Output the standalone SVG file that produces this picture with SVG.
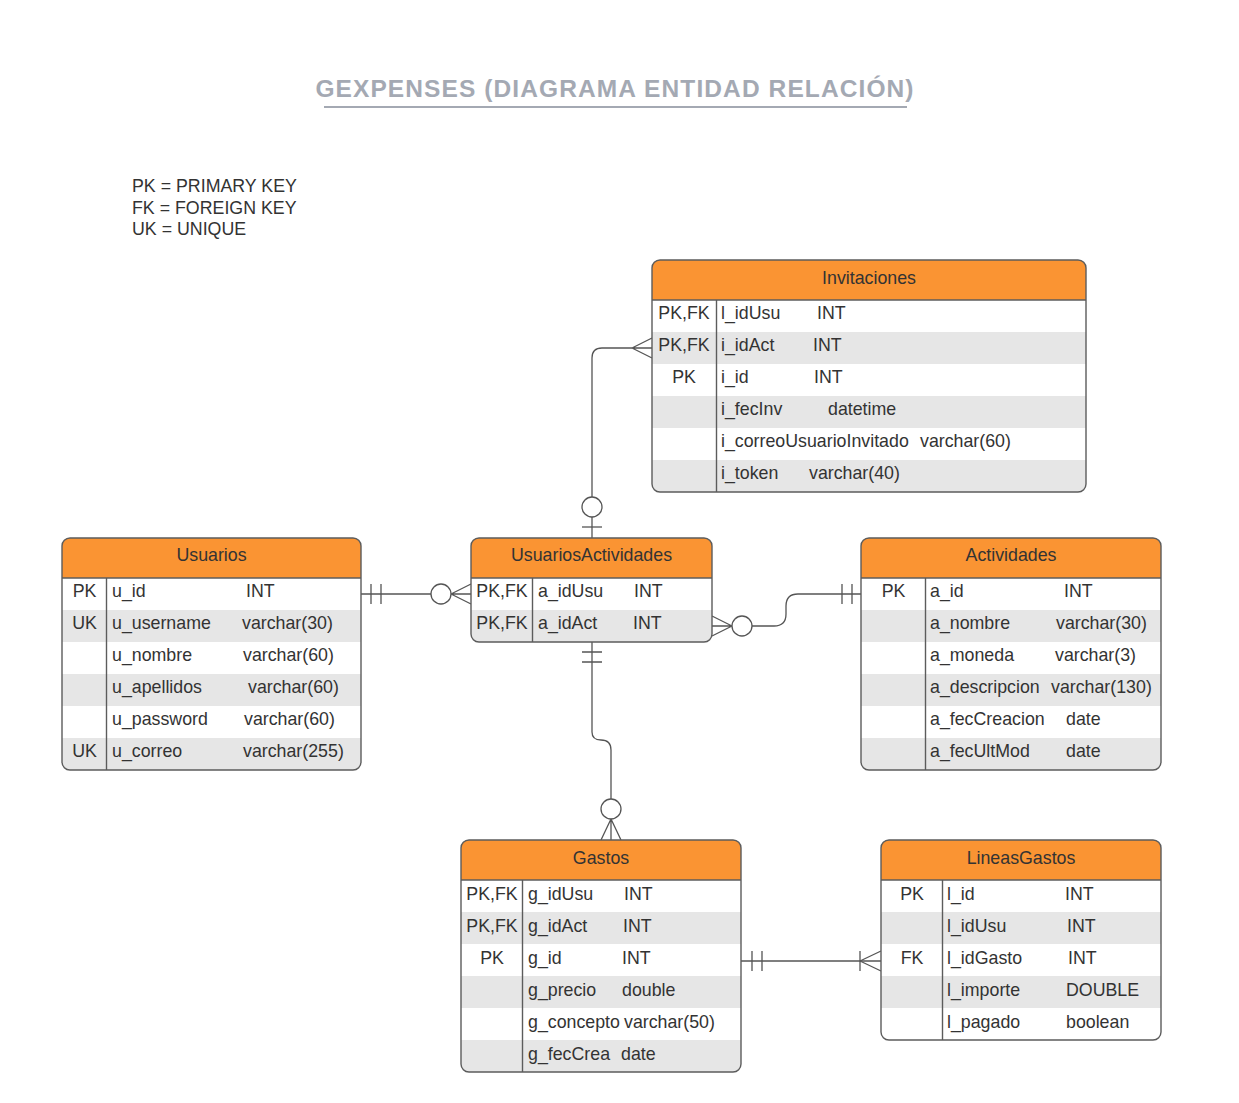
<svg xmlns="http://www.w3.org/2000/svg" width="1239" height="1103" viewBox="0 0 1239 1103">
<style>
text{font-family:"Liberation Sans",Arial,sans-serif;font-size:17.8px;fill:#333333}
.c{text-anchor:middle}
.title{font-size:24.5px;font-weight:bold;fill:#a4a9b3;letter-spacing:1.1px}
.bg{fill:#ffffff}
.hdr{fill:#fa9433}
.g{fill:#e6e6e6}
.box{fill:none;stroke:#5c5c5c;stroke-width:1.4}
.ln{stroke:#5c5c5c;stroke-width:1.4}
.cn path,.cn line{fill:none;stroke:#555555;stroke-width:1.3}
.cn circle{fill:#ffffff;stroke:#555555;stroke-width:1.3}
</style>
<rect x="0" y="0" width="1239" height="1103" fill="#ffffff"/>
<g id="title">
<text class="title c" x="615" y="97">GEXPENSES (DIAGRAMA ENTIDAD RELACIÓN)</text>
<line x1="324" y1="107" x2="907" y2="107" stroke="#a4a9b3" stroke-width="2"/>
</g>
<g id="legend">
<text x="132" y="192">PK = PRIMARY KEY</text>
<text x="132" y="213.5">FK = FOREIGN KEY</text>
<text x="132" y="235">UK = UNIQUE</text>
</g>

<g class="cn" id="connectors">
<!-- Usuarios - UsuariosActividades -->
<path d="M361,594 H431"/>
<path d="M371,584 V604 M381,584 V604"/>
<circle cx="441" cy="594" r="10"/>
<path d="M451,594 L471,584 M451,594 L471,594 M451,594 L471,604"/>
<!-- UsuariosActividades - Actividades -->
<path d="M712,616 L732,626 M712,626 L732,626 M712,636 L732,626"/>
<circle cx="742" cy="626" r="10"/>
<path d="M752,626 H774 Q786,626 786,614 V606 Q786,594 798,594 H861"/>
<path d="M842,584 V604 M852,584 V604"/>
<!-- Invitaciones - UsuariosActividades -->
<path d="M582,527 H602"/>
<path d="M592,538 V517"/>
<circle cx="592" cy="507" r="10"/>
<path d="M592,497 V358 Q592,348 602,348 H632"/>
<path d="M632,348 L652,338 M632,348 L652,348 M632,348 L652,358"/>
<!-- UsuariosActividades - Gastos -->
<path d="M592,642 V732 Q592,740 601,740 Q611,740 611,750 V799"/>
<path d="M582,652 H602 M582,662 H602"/>
<circle cx="611" cy="809" r="10"/>
<path d="M611,819 L601,840 M611,819 L611,840 M611,819 L621,840"/>
<!-- Gastos - LineasGastos -->
<path d="M741,961 H881"/>
<path d="M752,951 V971 M762,951 V971"/>
<path d="M860,951 V971"/>
<path d="M860,961 L881,951 M860,961 L881,971"/>
</g>

<g id="Invitaciones">
<rect class="bg" x="652" y="260" width="434" height="232" rx="8"/>
<path class="hdr" d="M652,300 V268 A8,8 0 0 1 660,260 H1078 A8,8 0 0 1 1086,268 V300 Z"/>
<rect class="g" x="652" y="332" width="434" height="32"/>
<rect class="g" x="652" y="396" width="434" height="32"/>
<path class="g" d="M652,460 H1086 V484 A8,8 0 0 1 1078,492 H660 A8,8 0 0 1 652,484 Z"/>
<line class="ln" x1="652" y1="300" x2="1086" y2="300"/>
<line class="ln" x1="716.5" y1="300" x2="716.5" y2="492"/>
<rect class="box" x="652" y="260" width="434" height="232" rx="8"/>
<text class="c" x="869" y="284">Invitaciones</text>
<text class="c" x="684" y="319">PK,FK</text><text x="721" y="319">l_idUsu<tspan x="817">INT</tspan></text>
<text class="c" x="684" y="351">PK,FK</text><text x="721" y="351">i_idAct<tspan x="813">INT</tspan></text>
<text class="c" x="684" y="383">PK</text><text x="721" y="383">i_id<tspan x="814">INT</tspan></text>
<text x="721" y="415">i_fecInv<tspan x="828">datetime</tspan></text>
<text x="721" y="447">i_correoUsuarioInvitado<tspan x="920">varchar(60)</tspan></text>
<text x="721" y="479">i_token<tspan x="809">varchar(40)</tspan></text>
</g>

<g id="Usuarios">
<rect class="bg" x="62" y="538" width="299" height="232" rx="8"/>
<path class="hdr" d="M62,578 V546 A8,8 0 0 1 70,538 H353 A8,8 0 0 1 361,546 V578 Z"/>
<rect class="g" x="62" y="610" width="299" height="32"/>
<rect class="g" x="62" y="674" width="299" height="32"/>
<path class="g" d="M62,738 H361 V762 A8,8 0 0 1 353,770 H70 A8,8 0 0 1 62,762 Z"/>
<line class="ln" x1="62" y1="578" x2="361" y2="578"/>
<line class="ln" x1="106.5" y1="578" x2="106.5" y2="770"/>
<rect class="box" x="62" y="538" width="299" height="232" rx="8"/>
<text class="c" x="211.5" y="561">Usuarios</text>
<text class="c" x="84.5" y="597">PK</text><text x="112" y="597">u_id<tspan x="246">INT</tspan></text>
<text class="c" x="84.5" y="629">UK</text><text x="112" y="629">u_username<tspan x="242">varchar(30)</tspan></text>
<text x="112" y="661">u_nombre<tspan x="243">varchar(60)</tspan></text>
<text x="112" y="693">u_apellidos<tspan x="248">varchar(60)</tspan></text>
<text x="112" y="725">u_password<tspan x="244">varchar(60)</tspan></text>
<text class="c" x="84.5" y="757">UK</text><text x="112" y="757">u_correo<tspan x="243">varchar(255)</tspan></text>
</g>

<g id="UsuariosActividades">
<rect class="bg" x="471" y="538" width="241" height="104" rx="8"/>
<path class="hdr" d="M471,578 V546 A8,8 0 0 1 479,538 H704 A8,8 0 0 1 712,546 V578 Z"/>
<path class="g" d="M471,610 H712 V634 A8,8 0 0 1 704,642 H479 A8,8 0 0 1 471,634 Z"/>
<line class="ln" x1="471" y1="578" x2="712" y2="578"/>
<line class="ln" x1="532.5" y1="578" x2="532.5" y2="642"/>
<rect class="box" x="471" y="538" width="241" height="104" rx="8"/>
<text class="c" x="591.5" y="561">UsuariosActividades</text>
<text class="c" x="502" y="597">PK,FK</text><text x="538" y="597">a_idUsu<tspan x="634">INT</tspan></text>
<text class="c" x="502" y="629">PK,FK</text><text x="538" y="629">a_idAct<tspan x="633">INT</tspan></text>
</g>

<g id="Actividades">
<rect class="bg" x="861" y="538" width="300" height="232" rx="8"/>
<path class="hdr" d="M861,578 V546 A8,8 0 0 1 869,538 H1153 A8,8 0 0 1 1161,546 V578 Z"/>
<rect class="g" x="861" y="610" width="300" height="32"/>
<rect class="g" x="861" y="674" width="300" height="32"/>
<path class="g" d="M861,738 H1161 V762 A8,8 0 0 1 1153,770 H869 A8,8 0 0 1 861,762 Z"/>
<line class="ln" x1="861" y1="578" x2="1161" y2="578"/>
<line class="ln" x1="925.5" y1="578" x2="925.5" y2="770"/>
<rect class="box" x="861" y="538" width="300" height="232" rx="8"/>
<text class="c" x="1011" y="561">Actividades</text>
<text class="c" x="893.5" y="597">PK</text><text x="930" y="597">a_id<tspan x="1064">INT</tspan></text>
<text x="930" y="629">a_nombre<tspan x="1056">varchar(30)</tspan></text>
<text x="930" y="661">a_moneda<tspan x="1055">varchar(3)</tspan></text>
<text x="930" y="693">a_descripcion<tspan x="1051">varchar(130)</tspan></text>
<text x="930" y="725">a_fecCreacion<tspan x="1066">date</tspan></text>
<text x="930" y="757">a_fecUltMod<tspan x="1066">date</tspan></text>
</g>

<g id="Gastos">
<rect class="bg" x="461" y="840" width="280" height="232" rx="8"/>
<path class="hdr" d="M461,880 V848 A8,8 0 0 1 469,840 H733 A8,8 0 0 1 741,848 V880 Z"/>
<rect class="g" x="461" y="912" width="280" height="32"/>
<rect class="g" x="461" y="976" width="280" height="32"/>
<path class="g" d="M461,1040 H741 V1064 A8,8 0 0 1 733,1072 H469 A8,8 0 0 1 461,1064 Z"/>
<line class="ln" x1="461" y1="880" x2="741" y2="880"/>
<line class="ln" x1="522.5" y1="880" x2="522.5" y2="1072"/>
<rect class="box" x="461" y="840" width="280" height="232" rx="8"/>
<text class="c" x="601" y="864">Gastos</text>
<text class="c" x="492" y="899.5">PK,FK</text><text x="528" y="899.5">g_idUsu<tspan x="624">INT</tspan></text>
<text class="c" x="492" y="931.5">PK,FK</text><text x="528" y="931.5">g_idAct<tspan x="623">INT</tspan></text>
<text class="c" x="492" y="963.5">PK</text><text x="528" y="963.5">g_id<tspan x="622">INT</tspan></text>
<text x="528" y="995.5">g_precio<tspan x="622">double</tspan></text>
<text x="528" y="1027.5">g_concepto<tspan x="624">varchar(50)</tspan></text>
<text x="528" y="1059.5">g_fecCrea<tspan x="621">date</tspan></text>
</g>

<g id="LineasGastos">
<rect class="bg" x="881" y="840" width="280" height="200" rx="8"/>
<path class="hdr" d="M881,880 V848 A8,8 0 0 1 889,840 H1153 A8,8 0 0 1 1161,848 V880 Z"/>
<rect class="g" x="881" y="912" width="280" height="32"/>
<rect class="g" x="881" y="976" width="280" height="32"/>
<line class="ln" x1="881" y1="880" x2="1161" y2="880"/>
<line class="ln" x1="942.5" y1="880" x2="942.5" y2="1040"/>
<rect class="box" x="881" y="840" width="280" height="200" rx="8"/>
<text class="c" x="1021" y="864">LineasGastos</text>
<text class="c" x="912" y="899.5">PK</text><text x="947" y="899.5">l_id<tspan x="1065">INT</tspan></text>
<text x="947" y="931.5">l_idUsu<tspan x="1067">INT</tspan></text>
<text class="c" x="912" y="963.5">FK</text><text x="947" y="963.5">l_idGasto<tspan x="1068">INT</tspan></text>
<text x="947" y="995.5">l_importe<tspan x="1066">DOUBLE</tspan></text>
<text x="947" y="1027.5">l_pagado<tspan x="1066">boolean</tspan></text>
</g>
</svg>
